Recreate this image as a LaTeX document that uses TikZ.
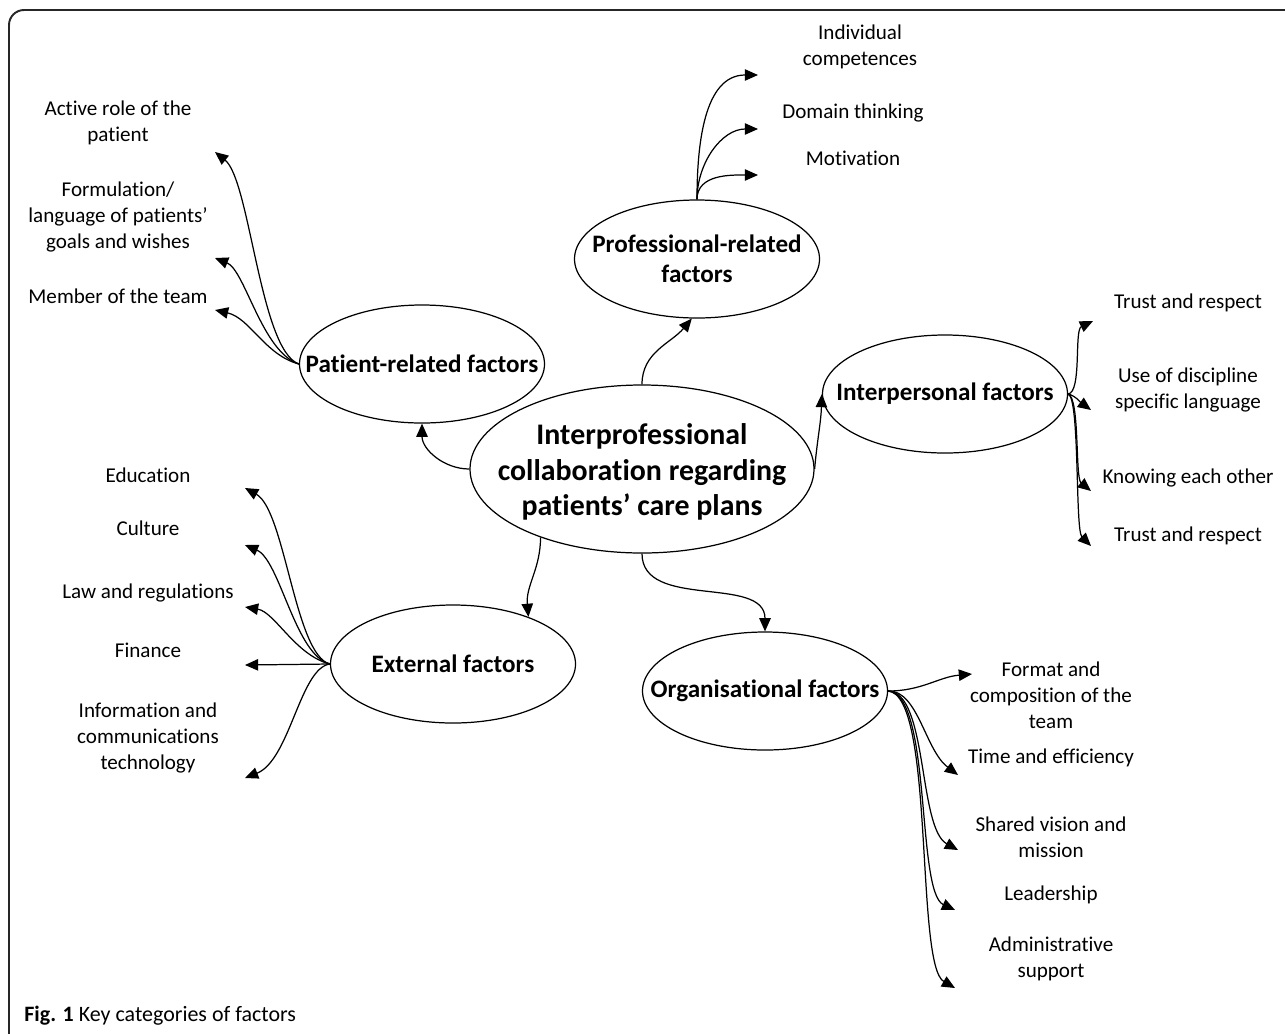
\documentclass[tikz,border=0pt]{standalone}
\usepackage{fontspec}
\setmainfont{Carlito}[Ligatures={TeX,NoCommon}]
\usetikzlibrary{arrows.meta,shapes.geometric}

\tikzset{
	frame/.style={line width=1.1pt, draw=black!85, rounded corners=3mm},
	hub/.style={draw, ellipse, line width=0.7pt, minimum width=68.8mm, minimum height=33.6mm, inner sep=0pt},
	factor/.style={draw, ellipse, line width=0.7pt, minimum width=49mm, minimum height=23.6mm, inner sep=0pt},
	hubname/.style={font=\fontsize{17}{20}\selectfont\bfseries, align=center, inner sep=0pt},
	factorname/.style={font=\fontsize{14.3}{17}\selectfont\bfseries, align=center, inner sep=0pt},
	item/.style={font=\fontsize{12}{14.8}\selectfont, align=center, inner sep=0pt},
	link/.style={line width=0.7pt, -{Triangle[length=7.5pt, width=6.5pt]}},
}

\begin{document}
\begin{tikzpicture}[x=0.2mm, y=0.2mm]
			%%%%% START %%%%%
			
			\useasboundingbox (0,0) rectangle (1285,-1033);
			\clip (0,0) rectangle (1285,-1033);
			\draw[frame] (9,-10) rectangle (1330,-1080);
			
			\node[hub] (cent) at (642,-469) {};
			\node[hubname] (centtext) at (642,-472) {Interprofessional\\collaboration regarding\\patients' care plans};
			
			\node[factor] (prof) at (697,-259) {};
			\node[factorname] (proftext) at (prof) {Professional-related\\factors};
			\node[factor] (pat) at (422,-364) {};
			\node[factorname] (pattext) at (pat) {Patient-related factors};
			\node[factor] (inter) at (945,-394) {};
			\node[factorname] (intertext) at (inter) {Interpersonal factors};
			\node[factor] (ext) at (453,-664) {};
			\node[factorname] (exttext) at (ext) {External factors};
			\node[factor] (org) at (765,-691) {};
			\node[factorname] (orgtext) at (org) {Organisational factors};
			
			\draw[link] (cent.west) to[out=180, in=-90] (pat.south);
			\draw[link] (cent.north) to[out=90, in=-130] (prof.265);
			\draw[link] (cent.east) to[out=85, in=-92] (inter.west);
			\draw[link] (cent.214) to[out=-90, in=95] (ext.32);
			\draw[link] (cent.south) to[out=-90, in=90] (org.north);
			
			% patient
			\node[item] (act) at (118,-123) {Active role of the\\patient};
			\node[item] (form) at (118,-217) {Formulation/\\language of patients'\\goals and wishes};
			\node[item] (memb) at (118,-296) {Member of the team};
			\coordinate (actend) at (215,-152);
			\coordinate (formend) at (215,-258);
			\coordinate (membend) at (215,-310);
			\draw[link] (pat.west) .. controls (260,-350) and (250,-180) .. (actend);
			\draw[link] (pat.west) .. controls (262,-352) and (245,-270) .. (formend);
			\draw[link] (pat.west) .. controls (265,-355) and (250,-318) .. (membend);
			
			% professional
			\node[item] (indiv) at (860,-47) {Individual\\competences};
			\node[item] (domain) at (853,-113) {Domain thinking};
			\node[item] (motiv) at (853,-158) {Motivation};
			\coordinate (indivend) at (758,-75);
			\coordinate (domainend) at (758,-129);
			\coordinate (motivend) at (758,-175);
			\draw[link] (prof.north) to[out=90, in=180] (indivend);
			\draw[link] (prof.north) to[out=90, in=180] (domainend);
			\draw[link] (prof.north) to[out=90, in=180] (motivend);
			
			% interpersonal
			\node[item] (trusta) at (1188,-303) {Trust and respect};
			\node[item] (disc) at (1188,-390) {Use of discipline\\specific language};
			\node[item] (know) at (1188,-478) {Knowing each other};
			\node[item] (trustb) at (1188,-536) {Trust and respect};
			\coordinate (trustaend) at (1093,-321);
			\coordinate (discend) at (1091,-410);
			\coordinate (knowend) at (1091,-491);
			\coordinate (trustbend) at (1091,-546);
			\draw[link] (inter.east) .. controls (1082,-392) and (1074,-330) .. (trustaend);
			\draw[link] (inter.east) .. controls (1076,-396) and (1080,-402) .. (discend);
			\draw[link] (inter.east) .. controls (1080,-398) and (1075,-478) .. (knowend);
			\draw[link] (inter.east) .. controls (1080,-398) and (1075,-530) .. (trustbend);
			
			% external
			\node[item] (edu) at (148,-475) {Education};
			\node[item] (cult) at (148,-528) {Culture};
			\node[item] (law) at (148,-593) {Law and regulations};
			\node[item] (fin) at (148,-650) {Finance};
			\node[item] (ict) at (148,-738) {Information and\\communications\\technology};
			\coordinate (eduend) at (245,-488);
			\coordinate (cultend) at (245,-545);
			\coordinate (lawend) at (245,-607);
			\coordinate (finend) at (245,-665);
			\coordinate (ictend) at (245,-778);
			\draw[link] (ext.west) .. controls (295,-655) and (285,-510) .. (eduend);
			\draw[link] (ext.west) .. controls (295,-655) and (280,-560) .. (cultend);
			\draw[link] (ext.west) .. controls (295,-655) and (275,-612) .. (lawend);
			\draw[link] (ext.west) -- (finend);
			\draw[link] (ext.west) .. controls (300,-668) and (290,-760) .. (ictend);
			
			% organisational
			\node[item] (form2) at (1051,-695) {Format and\\composition of the\\team};
			\node[item] (time) at (1051,-758) {Time and efficiency};
			\node[item] (vision) at (1051,-837) {Shared vision and\\mission};
			\node[item] (lead) at (1051,-895) {Leadership};
			\node[item] (admin) at (1051,-959) {Administrative\\support};
			\coordinate (form2end) at (972,-674);
			\coordinate (timeend) at (958,-775);
			\coordinate (visionend) at (958,-850);
			\coordinate (leadend) at (955,-910);
			\coordinate (adminend) at (955,-988);
			\draw[link] (org.east) to[out=0, in=185] (form2end);
			\draw[link] (org.east) .. controls (918,-690) and (925,-750) .. (timeend);
			\draw[link] (org.east) .. controls (928,-692) and (918,-828) .. (visionend);
			\draw[link] (org.east) .. controls (932,-694) and (916,-892) .. (leadend);
			\draw[link] (org.east) .. controls (935,-695) and (915,-965) .. (adminend);
			
			\node[item, font=\fontsize{12.5}{15}\selectfont, anchor=west] (figcap) at (24,-1016) {\textbf{Fig. 1} Key categories of factors};
			
			%%%%% END %%%%%
\end{tikzpicture}
\end{document}
